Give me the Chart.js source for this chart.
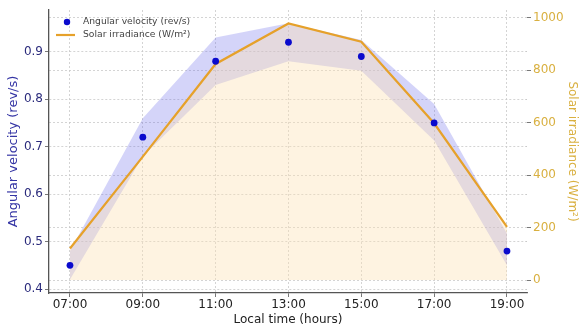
<!DOCTYPE html>
<html>
<head>
<meta charset="utf-8">
<script src="https://cdn.jsdelivr.net/npm/chart.js@4/dist/chart.umd.min.js"></script>
<style>
  html, body { margin: 0; padding: 0; background: #fff; }
  #wrap { width: 581px; height: 329px; }
</style>
</head>
<body>
<div id="wrap"><canvas id="myChart" width="581" height="329"></canvas></div>
<script>
// data
const hours = [7, 9, 11, 13, 15, 17, 19];
const timeLabels = ['07:00', '09:00', '11:00', '13:00', '15:00', '17:00', '19:00'];
const angularVelocity = [0.45, 0.72, 0.88, 0.92, 0.89, 0.75, 0.48];
const velocityUpper = [0.48, 0.76, 0.93, 0.96, 0.925, 0.79, 0.517];
const velocityLower = [0.42, 0.68, 0.83, 0.88, 0.86, 0.713, 0.45];
const irradiance = [120, 470, 823, 977, 908, 597, 202];
const velocityTicks = [0.4, 0.5, 0.6, 0.7, 0.8, 0.9];
const irradianceTicks = [0, 200, 400, 600, 800, 1000];
const seriesNames = ['Angular velocity (rev/s)', 'Solar irradiance (W/m²)'];

const pointColor = '#0a0acd';
const lineColor = '#e6a12a';
const navy = '#2b2b7c';
const gold = '#d9b040';

Chart.defaults.font.family = '"DejaVu Sans", sans-serif';
Chart.defaults.font.size = 12;

function toPoints(values) {
  return hours.map((h, i) => ({ x: h, y: values[i] }));
}

// legend drawn inside the plot, top left
const insideLegend = {
  id: 'insideLegend',
  afterDraw(chart) {
    const ctx = chart.ctx;
    const a = chart.chartArea;
    ctx.save();
    ctx.font = '9.2px "DejaVu Sans"';
    ctx.textBaseline = 'middle';
    ctx.fillStyle = pointColor;
    ctx.beginPath();
    ctx.arc(a.left + 18, a.top + 12, 3.2, 0, Math.PI * 2);
    ctx.fill();
    ctx.fillStyle = '#444';
    ctx.fillText(seriesNames[0], a.left + 34, a.top + 12);
    ctx.strokeStyle = lineColor;
    ctx.lineWidth = 2.2;
    ctx.beginPath();
    ctx.moveTo(a.left + 7, a.top + 25);
    ctx.lineTo(a.left + 26, a.top + 25);
    ctx.stroke();
    ctx.fillStyle = '#444';
    ctx.fillText(seriesNames[1], a.left + 34, a.top + 25);
    ctx.restore();
  }
};

const gridDash = { color: '#c9c9c9', lineWidth: 0.8, tickLength: 4, tickColor: '#555', tickBorderDash: [] };

const ctx = document.getElementById('myChart').getContext('2d');
const chart = new Chart(ctx, {
  type: 'line',
  data: {
    datasets: [
      {
        label: seriesNames[0],
        data: toPoints(angularVelocity),
        yAxisID: 'y',
        showLine: false,
        pointRadius: 3.4,
        pointBackgroundColor: pointColor,
        pointBorderWidth: 0,
        order: 0
      },
      {
        label: seriesNames[1],
        data: toPoints(irradiance),
        yAxisID: 'y1',
        borderColor: lineColor,
        borderWidth: 2.2,
        pointRadius: 0,
        tension: 0,
        fill: 'origin',
        backgroundColor: 'rgba(253, 226, 180, 0.4)',
        order: 1
      },
      {
        label: 'upper',
        data: toPoints(velocityUpper),
        yAxisID: 'y',
        borderWidth: 0,
        pointRadius: 0,
        fill: '+1',
        backgroundColor: 'rgba(100, 100, 235, 0.28)',
        order: 2
      },
      {
        label: 'lower',
        data: toPoints(velocityLower),
        yAxisID: 'y',
        borderWidth: 0,
        pointRadius: 0,
        fill: false,
        order: 3
      }
    ]
  },
  options: {
    responsive: false,
    animation: false,
    layout: { padding: { top: 10, left: 0, right: 0, bottom: 0 } },
    plugins: {
      legend: { display: false },
      tooltip: { enabled: false }
    },
    scales: {
      x: {
        type: 'linear',
        min: 6.424,
        max: 19.55,
        afterBuildTicks: scale => { scale.ticks = hours.map(v => ({ value: v })); },
        afterFit: scale => { scale.height = 36; },
        grid: gridDash,
        border: { color: '#555', width: 1.3, dash: [2, 2] },
        ticks: {
          color: '#222',
          padding: 1,
          maxRotation: 0,
          callback: v => timeLabels[hours.indexOf(v)]
        },
        title: { display: true, text: 'Local time (hours)', color: '#222', font: { size: 12 }, padding: { top: 0, bottom: 2 } }
      },
      y: {
        position: 'left',
        min: 0.3916,
        max: 0.988,
        afterBuildTicks: scale => { scale.ticks = velocityTicks.map(v => ({ value: v })); },
        afterFit: scale => { scale.width = 49; },
        grid: gridDash,
        border: { color: '#555', width: 1.3, dash: [2, 2] },
        ticks: { color: navy, padding: 2, callback: v => v.toFixed(1) },
        title: { display: true, text: seriesNames[0], color: '#3434a4', font: { size: 13 }, padding: { top: 6, bottom: 0 } }
      },
      y1: {
        position: 'right',
        min: -49.5,
        max: 1028.6,
        afterBuildTicks: scale => { scale.ticks = irradianceTicks.map(v => ({ value: v })); },
        afterFit: scale => { scale.width = 54; },
        grid: gridDash,
        border: { display: false, dash: [2, 2] },
        ticks: { color: gold, padding: 2, callback: v => String(v) },
        title: { display: true, text: seriesNames[1], color: gold, font: { size: 12 }, padding: { top: 2, bottom: 0 } }
      }
    }
  },
  plugins: [insideLegend]
});
</script>
</body>
</html>
